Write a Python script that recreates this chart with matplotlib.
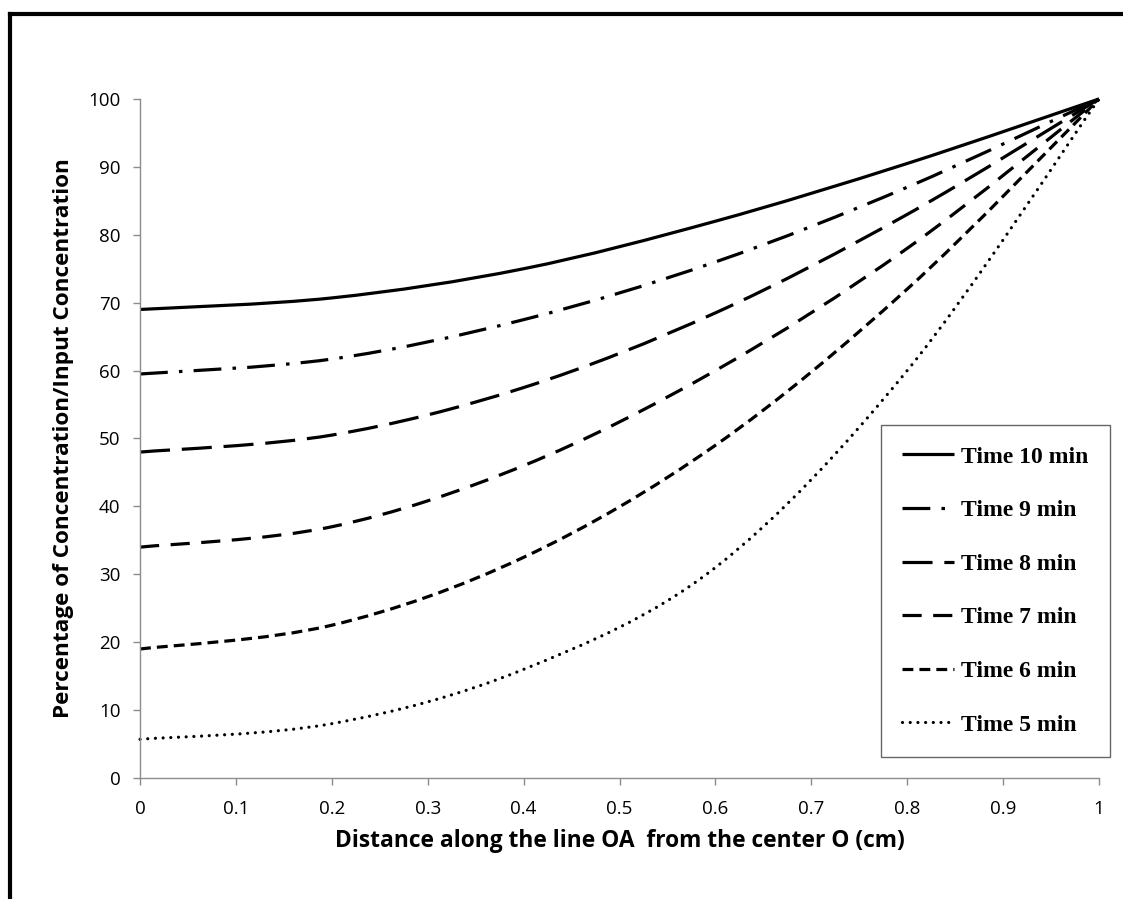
import numpy as np
import matplotlib.pyplot as plt
from matplotlib.path import Path
from matplotlib.patches import PathPatch
from matplotlib.lines import Line2D

# Distance along OA (cm)
x = [0, 0.2, 0.4, 0.6, 0.8, 1.0]

# Percentage of concentration / input concentration
t10 = [69.0, 70.7, 75.0, 82.0, 90.5, 100]
t9 = [59.5, 61.7, 67.5, 76.0, 87.0, 100]
t8 = [48.0, 50.5, 57.5, 68.5, 83.0, 100]
t7 = [34.0, 37.0, 46.0, 60.0, 78.0, 100]
t6 = [19.0, 22.5, 32.5, 49.0, 72.0, 100]
t5 = [5.7, 8.0, 16.0, 31.0, 60.0, 100]

labels = ['Time 10 min', 'Time 9 min', 'Time 8 min', 'Time 7 min', 'Time 6 min', 'Time 5 min']
series = [t10, t9, t8, t7, t6, t5]
dashes = [None, (8.7, 3.5, 1.1, 3.5), (9.4, 3.7), (6.0, 3.6), (3.4, 1.9), (0.01, 2.4)]
caps = ['butt', 'butt', 'butt', 'butt', 'butt', 'round']


def smooth_path(xs, ys):
    # excel style smoothed line: bezier segments through the points
    pts = np.column_stack([xs, ys]).astype(float)
    n = len(pts)
    verts = [pts[0]]
    codes = [Path.MOVETO]
    for i in range(n - 1):
        p0 = pts[max(i - 1, 0)]
        p1 = pts[i]
        p2 = pts[i + 1]
        p3 = pts[min(i + 2, n - 1)]
        c1 = p1 + (p2 - p0) / 6
        c2 = p2 - (p3 - p1) / 6
        verts += [c1, c2, p2]
        codes += [Path.CURVE4] * 3
    return Path(verts, codes)


fig = plt.figure(figsize=(11.23, 8.99), dpi=100)
ax = fig.add_axes([0.1247, 0.1346, 0.8539, 0.7553])

handles = []
for ys, lab, d, cap in zip(series, labels, dashes, caps):
    ls = '-' if d is None else (0, d)
    patch = PathPatch(smooth_path(x, ys), facecolor='none', edgecolor='black',
                      lw=2.3, linestyle=ls, capstyle=cap, clip_on=False)
    ax.add_patch(patch)
    h = Line2D([], [], color='black', lw=2.3, linestyle=ls,
               dash_capstyle=cap, solid_capstyle='butt')
    handles.append(h)

ax.set_xlim(0, 1)
ax.set_ylim(0, 100)
ax.set_xticks(np.arange(0, 1.01, 0.1))
ax.set_xticklabels(['0', '0.1', '0.2', '0.3', '0.4', '0.5', '0.6', '0.7', '0.8', '0.9', '1'])
ax.set_yticks(range(0, 101, 10))

for s in ['top', 'right']:
    ax.spines[s].set_visible(False)
for s in ['left', 'bottom']:
    ax.spines[s].set_color('#8c8c8c')
    ax.spines[s].set_linewidth(1.0)
ax.tick_params(axis='both', direction='out', color='#8c8c8c', length=5, width=1,
               labelsize=13.5)
ax.tick_params(axis='x', pad=11)
ax.tick_params(axis='y', pad=9)
for lbl in ax.get_xticklabels() + ax.get_yticklabels():
    lbl.set_family('Open Sans')

ax.set_xlabel('Distance along the line OA  from the center O (cm)', fontsize=16.4,
              fontweight='bold', family='Open Sans', labelpad=8)
ax.set_ylabel('Percentage of Concentration/Input Concentration', fontsize=16.2,
              fontweight='bold', family='Open Sans', labelpad=10)

leg = ax.legend(handles, labels, loc='lower right', bbox_to_anchor=(0.988, 0.158),
                bbox_transform=fig.transFigure, borderaxespad=0, frameon=True,
                fancybox=False, edgecolor='#404040', handlelength=2.2,
                handletextpad=0.3, labelspacing=1.36, borderpad=0.9,
                prop={'family': 'Liberation Serif', 'weight': 'bold', 'size': 17})
leg.get_frame().set_linewidth(1.0)

# outer frame (left and top edges only)
fig.add_artist(Line2D([0.009, 0.009], [0, 0.9845], transform=fig.transFigure,
                      color='black', lw=3, solid_capstyle='projecting'))
fig.add_artist(Line2D([0.009, 1.0], [0.9845, 0.9845], transform=fig.transFigure,
                      color='black', lw=3, solid_capstyle='projecting'))

fig.savefig('out.png', dpi=100)
